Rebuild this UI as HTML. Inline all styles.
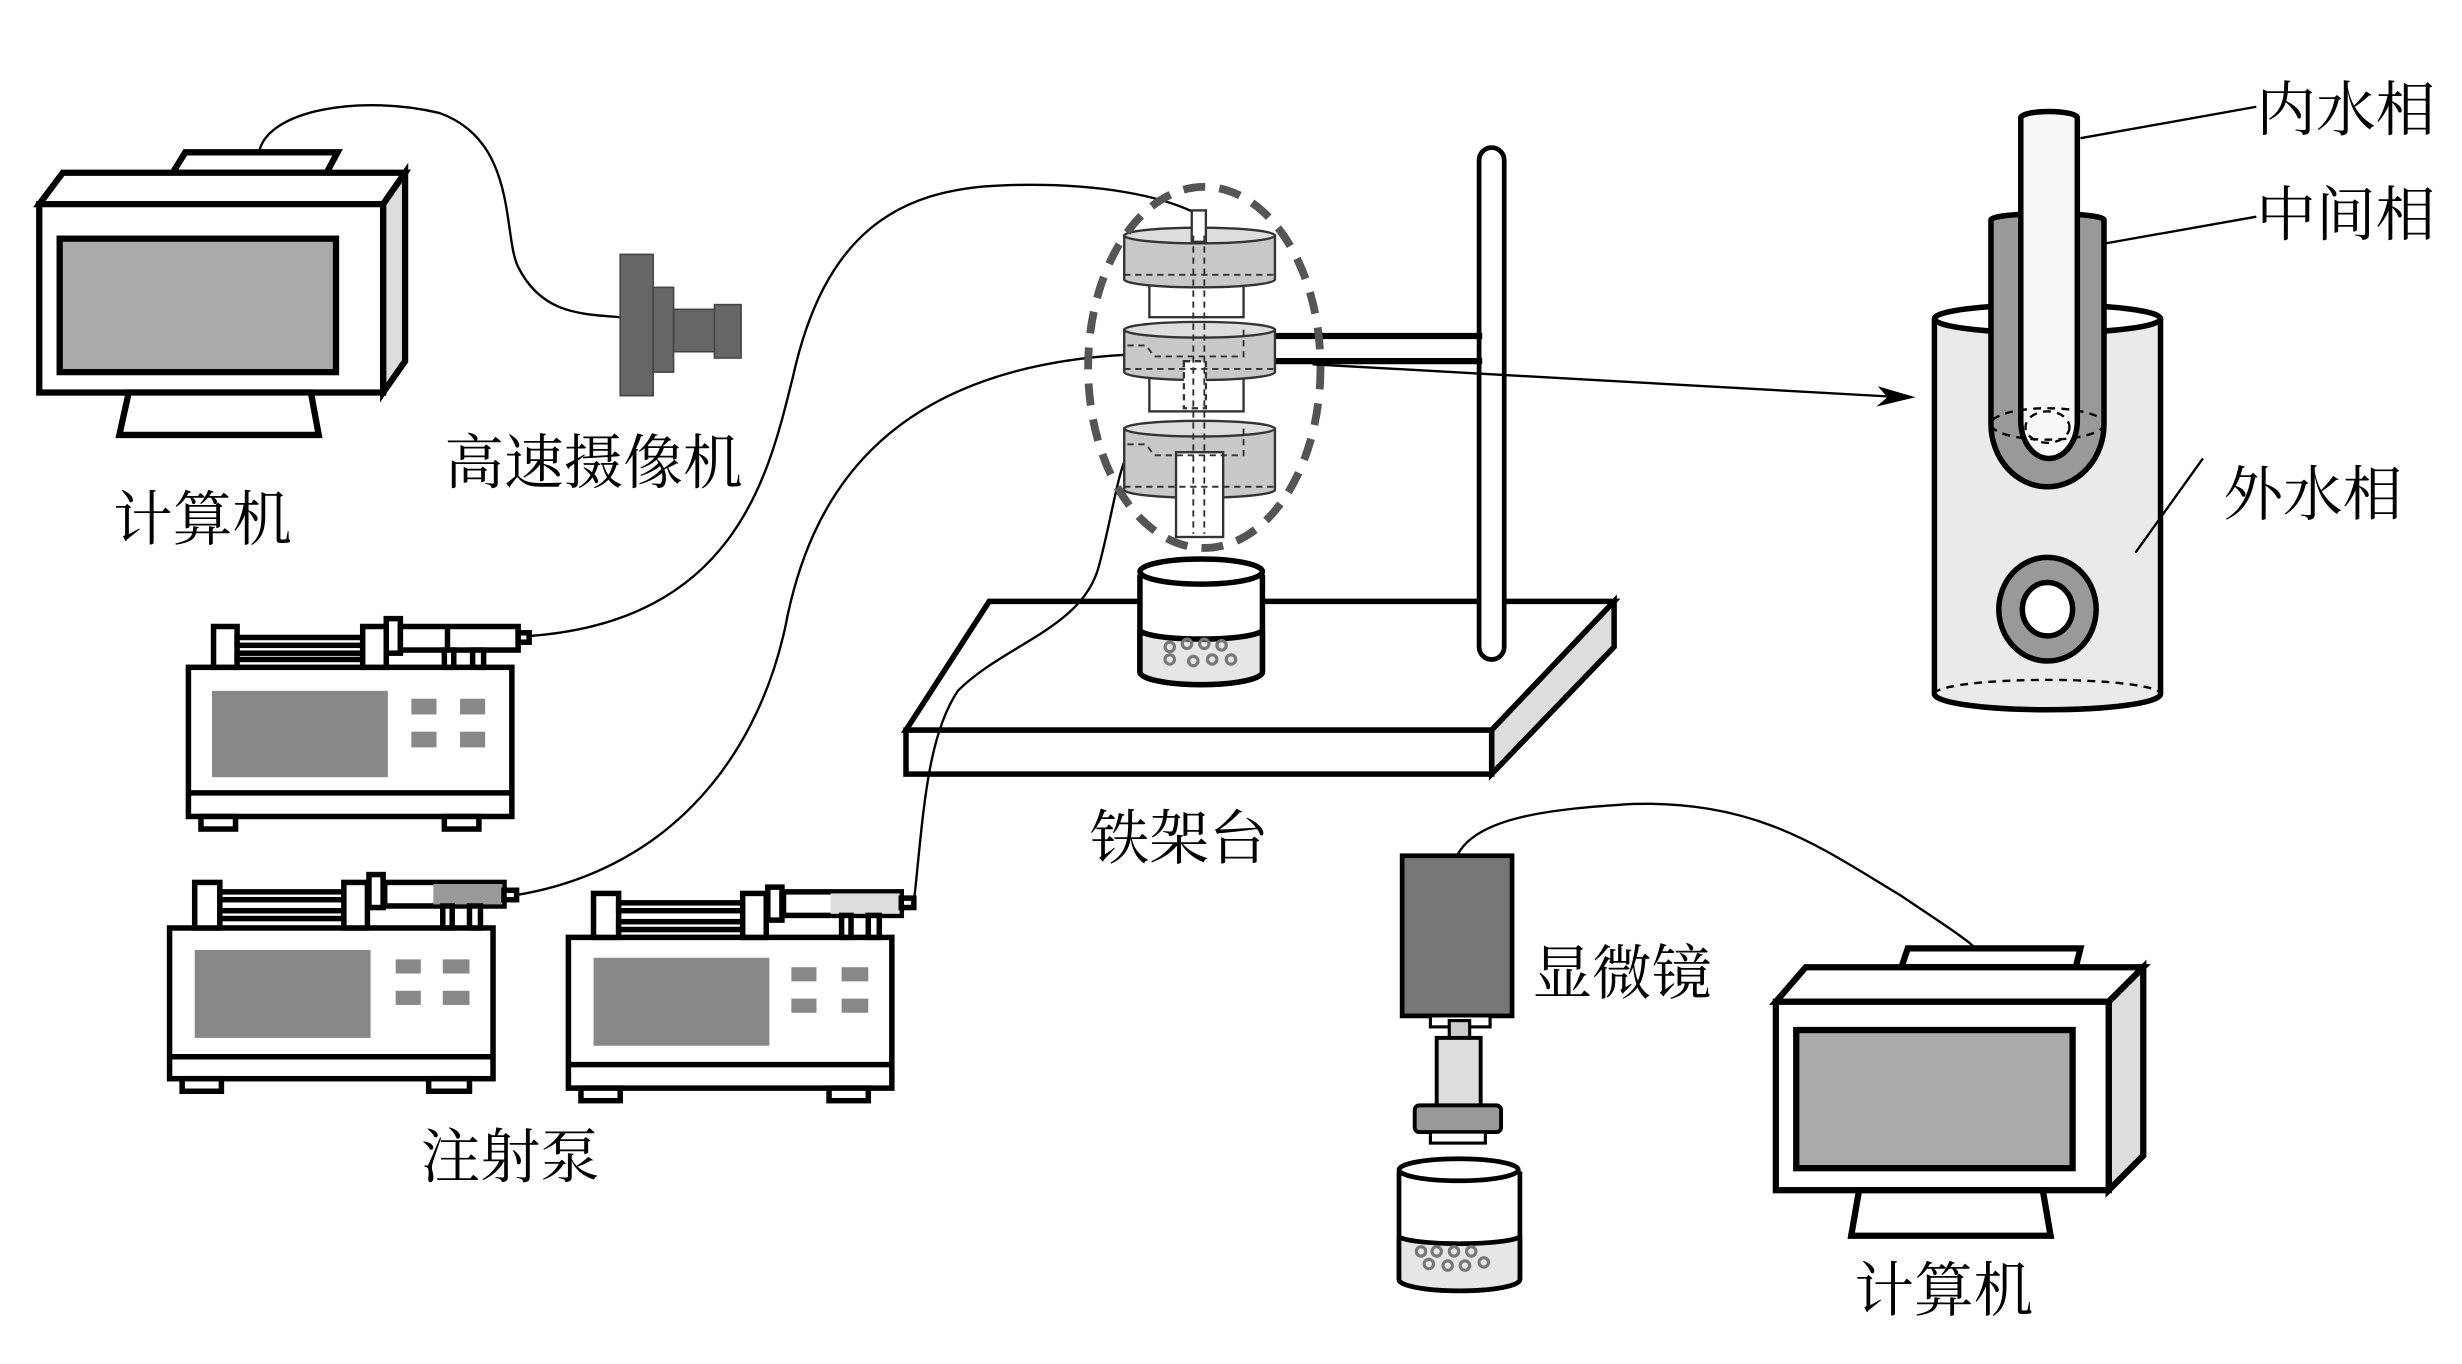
<!DOCTYPE html>
<html><head><meta charset="utf-8"><style>
html,body{margin:0;padding:0;background:#fff}
svg{display:block}
text{font-family:"Noto Serif CJK SC","Liberation Serif",serif;font-size:38px;fill:#000}
</style></head><body>
<svg width="2462" height="1364" viewBox="0 0 1568 868.7" preserveAspectRatio="none" xmlns="http://www.w3.org/2000/svg">
<g fill="none" stroke="#000" stroke-width="1.5">
<path d="M165,97 C170,70 230,60 280,72 C330,90 320,150 330,170 C345,200 370,200 395,202"/>
<path d="M338,405 C470,395 490,300 505,240 C525,150 570,120 640,118 C700,116 740,125 762,136"/>
<path d="M329,570 C420,555 480,490 500,400 C515,320 560,235 716,226"/>
<path d="M928,545 C940,520 990,515 1040,512 C1120,510 1160,540 1210,570 C1240,590 1255,600 1258,604"/>
</g>
<!-- computer 1 -->
<g stroke="#000" stroke-width="4" stroke-linejoin="miter">
<polygon points="110,110 118,97 215,97 208,110" fill="#fff"/>
<polygon points="25,130 40,110 258,110 244,130" fill="#fff"/>
<polygon points="244,130 258,110 258,230 244,250" fill="#ddd"/>
<rect x="25" y="130" width="219" height="120" fill="#fff"/>
<rect x="38" y="152" width="176" height="85" fill="#aaa"/>
<polygon points="82,250 198,250 203,277 76,277" fill="#fff"/>
</g>
<!-- camera -->
<g fill="#666" stroke="#444" stroke-width="1">
<rect x="395" y="162" width="21" height="90"/>
<rect x="416" y="183" width="13" height="54"/>
<rect x="429" y="197" width="27" height="27"/>
<rect x="455" y="194" width="17" height="34"/>
</g>
<!-- pumps -->
<g stroke="#000" stroke-width="3.5" fill="#fff">
<rect x="120" y="425" width="206" height="95"/><line x1="120" y1="505" x2="326" y2="505"/>
<rect x="128" y="520" width="22" height="8"/><rect x="283" y="520" width="22" height="8"/>
<rect x="135" y="440" width="112" height="55" fill="#888" stroke="none"/>
<rect x="136" y="399" width="15" height="26"/><rect x="151" y="406" width="80" height="5"/><rect x="151" y="416" width="80" height="4"/>
<rect x="231" y="399" width="15" height="26"/><rect x="246" y="394" width="9" height="22"/>
<rect x="255" y="399" width="75" height="15"/><line x1="285" y1="399" x2="285" y2="414"/>
<rect x="330" y="403" width="7" height="6"/>
<rect x="283" y="414" width="6" height="11"/><rect x="301" y="414" width="7" height="11"/>
<rect x="108" y="591" width="206" height="96"/><line x1="108" y1="673" x2="314" y2="673"/>
<rect x="116" y="687" width="25" height="8"/><rect x="273" y="687" width="26" height="8"/>
<rect x="124" y="605" width="112" height="56" fill="#888" stroke="none"/>
<rect x="124" y="562" width="16" height="29"/><rect x="140" y="568" width="79" height="5"/><rect x="140" y="580" width="79" height="5"/>
<rect x="219" y="562" width="15" height="29"/><rect x="235" y="557" width="9" height="21"/>
<rect x="245" y="562" width="76" height="15"/><rect x="276" y="563" width="44" height="13" fill="#999" stroke="none"/>
<rect x="321" y="567" width="8" height="6"/>
<rect x="282" y="577" width="6" height="14"/><rect x="299" y="577" width="7" height="14"/>
<rect x="362" y="597" width="206" height="96"/><line x1="362" y1="678" x2="568" y2="678"/>
<rect x="370" y="693" width="25" height="8"/><rect x="528" y="693" width="25" height="8"/>
<rect x="378" y="610" width="112" height="56" fill="#888" stroke="none"/>
<rect x="378" y="569" width="16" height="28"/><rect x="394" y="575" width="79" height="5"/><rect x="394" y="587" width="79" height="5"/>
<rect x="473" y="569" width="15" height="28"/><rect x="489" y="565" width="9" height="21"/>
<rect x="499" y="568" width="75" height="15"/><rect x="529" y="569" width="44" height="13" fill="#ddd" stroke="none"/>
<rect x="574" y="572" width="8" height="6"/>
<rect x="536" y="583" width="6" height="14"/><rect x="553" y="583" width="7" height="14"/>
</g>
<g fill="#888">
<rect x="262" y="445" width="16" height="10"/><rect x="293" y="445" width="16" height="10"/><rect x="262" y="466" width="16" height="10"/><rect x="293" y="466" width="16" height="10"/>
<rect x="252" y="611" width="16" height="9"/><rect x="282" y="611" width="17" height="9"/><rect x="252" y="631" width="16" height="9"/><rect x="282" y="631" width="17" height="9"/>
<rect x="504" y="616" width="16" height="9"/><rect x="536" y="616" width="17" height="9"/><rect x="504" y="636" width="16" height="9"/><rect x="536" y="636" width="17" height="9"/>
</g>
<!-- stand -->
<g stroke="#000" stroke-width="3.5">
<polygon points="577,465 630,383 1028,383 950,465" fill="#fff"/>
<polygon points="950,465 1028,383 1028,412 950,493" fill="#ddd"/>
<rect x="577" y="465" width="373" height="28" fill="#fff"/>
<rect x="942" y="94" width="16" height="326" rx="8" fill="#fff" stroke-width="3"/>
<line x1="812" y1="214" x2="944" y2="214" stroke-width="4"/>
<line x1="812" y1="230" x2="944" y2="230" stroke-width="4"/>
</g>
<path d="M582,575 C588,520 590,470 610,440 C640,410 690,400 700,360 C708,330 712,300 718,290" fill="none" stroke="#000" stroke-width="1.5"/>
<!-- beaker -->
<g stroke="#000" stroke-width="3.5">
<path d="M726,366 L726,428 A39,8 0 0 0 804,428 L804,366" fill="#fff"/>
<path d="M726,401 L726,428 A39,8 0 0 0 804,428 L804,401 A39,6 0 0 1 726,401Z" fill="#e6e6e6"/>
<ellipse cx="765" cy="364" rx="39" ry="8" fill="#fff"/>
</g>
<g fill="none" stroke="#777" stroke-width="2"><circle cx="745" cy="412" r="3"/><circle cx="756" cy="410" r="3"/><circle cx="767" cy="410" r="3"/><circle cx="778" cy="411" r="3"/><circle cx="745" cy="420" r="3"/><circle cx="760" cy="421" r="3"/><circle cx="772" cy="420" r="3"/><circle cx="784" cy="420" r="3"/></g>
<!-- device -->
<g stroke="#333" stroke-width="1.5">
<rect x="732" y="180" width="60" height="22" fill="#fff"/>
<rect x="732" y="238" width="60" height="24" fill="#fff"/>
<path d="M716,150 L716,178 A48,5 0 0 0 812,178 L812,150Z" fill="#c8c8c8"/><ellipse cx="764" cy="150" rx="48" ry="5" fill="#ddd"/>
<path d="M716,210 L716,237 A48,5 0 0 0 812,237 L812,210Z" fill="#c8c8c8"/><ellipse cx="764" cy="210" rx="48" ry="5" fill="#ddd"/>
<path d="M716,273 L716,312 A48,5 0 0 0 812,312 L812,273Z" fill="#c8c8c8"/><ellipse cx="764" cy="273" rx="48" ry="5" fill="#ddd"/>
<rect x="759" y="134" width="9" height="20" fill="#fff"/>
<rect x="749" y="288" width="30" height="54" fill="#fff"/>
<rect x="754" y="230" width="14" height="30" fill="#fff" stroke-dasharray="4 3"/>
</g>
<g fill="none" stroke="#333" stroke-width="1.2" stroke-dasharray="4 3">
<line x1="760" y1="150" x2="760" y2="340"/><line x1="767" y1="150" x2="767" y2="340"/>
<line x1="716" y1="175" x2="812" y2="175"/><line x1="716" y1="235" x2="812" y2="235"/><line x1="716" y1="310" x2="812" y2="310"/>
<path d="M718,220 L730,220 L735,227 L792,227 L792,210"/><path d="M718,283 L730,283 L735,290 L792,290 L792,273"/>
</g>
<ellipse cx="767" cy="234" rx="74" ry="115" fill="none" stroke="#555" stroke-width="5" stroke-dasharray="14 9"/>
<!-- arrow -->
<line x1="836" y1="232" x2="1212" y2="253" stroke="#000" stroke-width="1.5"/>
<polygon points="1220,253 1196,246 1202,253 1195,259" fill="#000"/>
<!-- right detail -->
<g stroke="#000" stroke-width="3.5">
<path d="M1232,203 L1232,442 A72,10 0 0 0 1376,442 L1376,203" fill="#eaeaea"/>
<ellipse cx="1304" cy="203" rx="72" ry="9" fill="#fff"/>
<path d="M1268,203 L1268,140 A36,4 0 0 1 1340,140 L1340,270 A36,40 0 0 1 1268,270Z" fill="#999"/>
<path d="M1287,75 A18,4 0 0 1 1323,75 L1323,268 A18,24 0 0 1 1287,268Z" fill="#f8f8f8"/>
<ellipse cx="1304" cy="388" rx="31" ry="33" fill="#999"/>
<ellipse cx="1304" cy="388" rx="16" ry="17" fill="#fff"/>
</g>
<g fill="none" stroke="#000" stroke-width="1.5" stroke-dasharray="5 4">
<ellipse cx="1304" cy="270" rx="36" ry="10"/><ellipse cx="1304" cy="272" rx="14" ry="10"/>
<path d="M1232,442 A72,9 0 0 1 1376,442"/>
</g>
<g stroke="#000" stroke-width="1.5">
<line x1="1325" y1="88" x2="1437" y2="68"/><line x1="1341" y1="155" x2="1437" y2="138"/><line x1="1360" y1="352" x2="1403" y2="292"/>
</g>
<!-- microscope -->
<g stroke="#000" stroke-width="3">
<rect x="893" y="545" width="70" height="102" fill="#777"/>
<rect x="911" y="647" width="38" height="7" fill="#fff" stroke-width="2"/>
<rect x="923" y="650" width="13" height="12" fill="#ccc" stroke-width="2"/>
<rect x="915" y="661" width="28" height="46" fill="#ddd" stroke-width="2.5"/>
<rect x="901" y="704" width="55" height="17" rx="3" fill="#999" stroke-width="2.5"/>
<rect x="911" y="721" width="35" height="7" fill="#fff" stroke-width="2"/>
<path d="M891,746 L891,815 A38,7 0 0 0 968,815 L968,746" fill="#fff"/>
<path d="M891,787 L891,815 A38,7 0 0 0 968,815 L968,787 A38,5 0 0 1 891,787Z" fill="#e6e6e6"/>
<ellipse cx="929" cy="745" rx="38" ry="7" fill="#fff"/>
</g>
<g fill="none" stroke="#777" stroke-width="2"><circle cx="905" cy="797" r="3"/><circle cx="915" cy="797" r="3"/><circle cx="926" cy="797" r="3"/><circle cx="937" cy="797" r="3"/><circle cx="910" cy="805" r="3"/><circle cx="922" cy="806" r="3"/><circle cx="933" cy="806" r="3"/><circle cx="945" cy="804" r="3"/></g>
<!-- computer 2 -->
<g stroke="#000" stroke-width="4">
<polygon points="1211,616 1215,604 1325,604 1322,616" fill="#fff"/>
<polygon points="1131,638 1150,616 1365,616 1343,638" fill="#fff"/>
<polygon points="1343,638 1365,616 1365,736 1343,758" fill="#ddd"/>
<rect x="1131" y="638" width="212" height="120" fill="#fff"/>
<rect x="1144" y="656" width="176" height="88" fill="#aaa"/>
<polygon points="1184,758 1301,758 1306,787 1179,787" fill="#fff"/>
</g>
<text x="72" y="344">计算机</text>
<text x="283" y="308">高速摄像机</text>
<text x="268" y="750">注射泵</text>
<text x="694" y="547">铁架台</text>
<text x="976" y="633">显微镜</text>
<text x="1181" y="835">计算机</text>
<text x="1437" y="83">内水相</text>
<text x="1437" y="150">中间相</text>
<text x="1416" y="328">外水相</text>
</svg>
</body></html>
